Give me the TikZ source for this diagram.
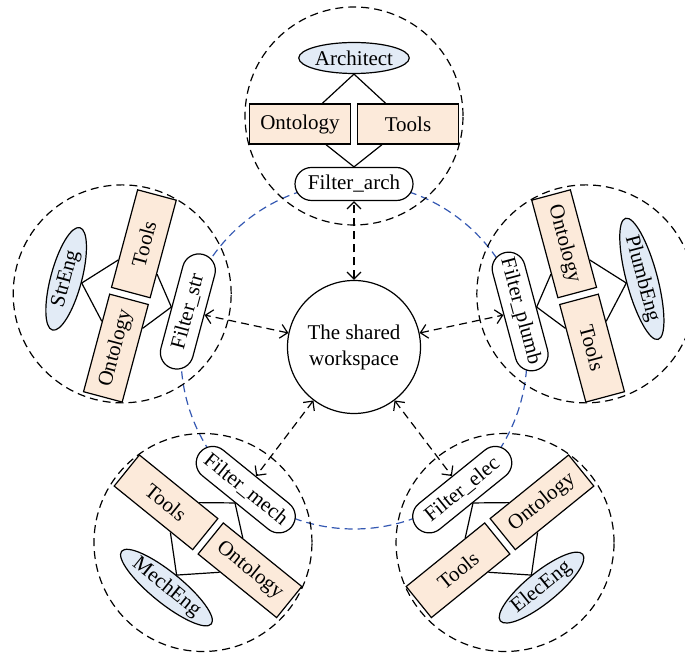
\documentclass[tikz,border=0pt]{standalone}
\usepackage{fontspec}
\setmainfont{Liberation Serif}
\usepackage{tikz}
\usetikzlibrary{shapes.geometric, arrows.meta, backgrounds, calc}
\definecolor{agentblue}{RGB}{226, 235, 246}
\definecolor{kbase}{RGB}{252, 234, 218}
\definecolor{ringblue}{RGB}{52, 88, 178}
\tikzstyle{agent} = [ellipse, draw=black, fill=agentblue, minimum width=53pt, minimum height=15.5pt, inner sep=0pt]
\tikzstyle{kbox} = [rectangle, draw=black, fill=kbase, minimum width=50.5pt, minimum height=20pt, inner sep=0pt]
\tikzstyle{filter} = [rectangle, rounded corners=8.25pt, draw=black, fill=white, minimum width=59pt, minimum height=16.5pt, inner xsep=3pt, inner ysep=0pt]
\tikzstyle{link} = [dash pattern=on 4pt off 2.5pt, <->, >={Straight Barb[length=3.5pt,width=7pt]}]
\tikzstyle{zone} = [dash pattern=on 4pt off 2.5pt]
\tikzstyle{ring} = [draw=ringblue, line width=0.6pt, dash pattern=on 4pt off 2.5pt]

\begin{document}
\begin{tikzpicture}[x=0.5pt, y=0.5pt, line width=0.6pt, font=\fontsize{10.5pt}{13pt}\selectfont]
\useasboundingbox (0,0) rectangle (685,-656);
\coordinate (c) at (354,-356);

% Shared workspace
\node[circle, draw, minimum size=66.5pt, inner sep=0pt, align=center] (ws) at (354,-347) {The shared\\workspace};

% Architect
\begin{scope}[shift={($(c)+(90:240)$)}]
\coordinate (m_a) at (0,0);
\node[agent] (exp_a) at (0,58) {Architect};
\node[kbox] (ont_a) at (-54,-8) {Ontology};
\node[kbox] (tool_a) at (54,-8) {Tools};
\node[filter] (filt_a) at (0,-68) {Filter\_arch};
\end{scope}

% Structural engineer
\begin{scope}[shift={($(c)+(165:240)$)}, rotate=75]
\coordinate (m_s) at (0,0);
\node[agent, rotate=75] (exp_s) at (0,58) {StrEng};
\node[kbox, rotate=75] (ont_s) at (-54,-8) {Ontology};
\node[kbox, rotate=75] (tool_s) at (54,-8) {Tools};
\node[filter, rotate=75] (filt_s) at (0,-68) {Filter\_str};
\end{scope}

% Plumbing engineer
\begin{scope}[shift={($(c)+(15:240)$)}, rotate=-75]
\coordinate (m_p) at (0,0);
\node[agent, rotate=-75] (exp_p) at (0,58) {PlumbEng};
\node[kbox, rotate=-75] (ont_p) at (-54,-8) {Ontology};
\node[kbox, rotate=-75] (tool_p) at (54,-8) {Tools};
\node[filter, rotate=-75] (filt_p) at (0,-68) {Filter\_plumb};
\end{scope}

% Mechanical engineer
\begin{scope}[shift={($(c)+(231:240)$)}, rotate=141]
\coordinate (m_m) at (0,0);
\node[agent, rotate=-39] (exp_m) at (0,58) {MechEng};
\node[kbox, rotate=-39] (ont_m) at (-54,-8) {Ontology};
\node[kbox, rotate=-39] (tool_m) at (54,-8) {Tools};
\node[filter, rotate=-39] (filt_m) at (0,-68) {Filter\_mech};
\end{scope}

% Electrical engineer
\begin{scope}[shift={($(c)+(309:240)$)}, rotate=219]
\coordinate (m_e) at (0,0);
\node[agent, rotate=39] (exp_e) at (0,58) {ElecEng};
\node[kbox, rotate=39] (ont_e) at (-54,-8) {Ontology};
\node[kbox, rotate=39] (tool_e) at (54,-8) {Tools};
\node[filter, rotate=39] (filt_e) at (0,-68) {Filter\_elec};
\end{scope}

% Ring of filters
\begin{scope}[on background layer]
\draw[ring] (c) circle[radius=173];
\end{scope}

% Links inside the modules
\draw (ont_a) -- (exp_a.south) -- (tool_a);
\draw (ont_a) -- (filt_a.north) -- (tool_a);
\draw (ont_s) -- (exp_s.south) -- (tool_s);
\draw (ont_s) -- (filt_s.north) -- (tool_s);
\draw (ont_p) -- (exp_p.south) -- (tool_p);
\draw (ont_p) -- (filt_p.north) -- (tool_p);
\draw (ont_m) -- (exp_m.north) -- (tool_m);
\draw (ont_m) -- (filt_m.south) -- (tool_m);
\draw (ont_e) -- (exp_e.north) -- (tool_e);
\draw (ont_e) -- (filt_e.south) -- (tool_e);

% Module borders
\draw[zone] (m_a) circle[radius=109];
\draw[zone] (m_s) circle[radius=109];
\draw[zone] (m_p) circle[radius=109];
\draw[zone] (m_m) circle[radius=109];
\draw[zone] (m_e) circle[radius=109];

% Arrows
\draw[link] (ws) -- (filt_a);
\draw[link] (ws) -- (filt_s);
\draw[link] (ws) -- (filt_p);
\draw[link] (ws) -- (filt_m);
\draw[link] (ws) -- (filt_e);

\end{tikzpicture}
\end{document}
